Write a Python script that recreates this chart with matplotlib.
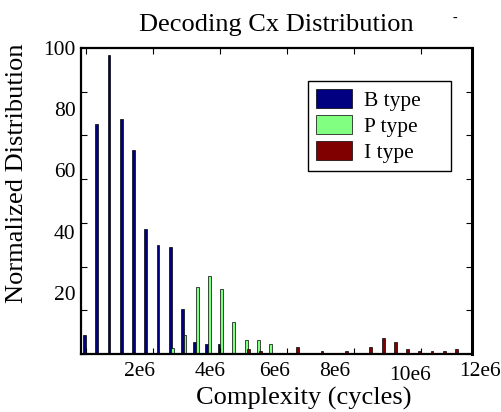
import matplotlib
matplotlib.use("Agg")
import matplotlib.pyplot as plt
import numpy as np

plt.rcParams['font.family'] = ['Liberation Serif', 'DejaVu Serif']

# complexity bins, one group per bin (B, P, I type)
b_type = [6.2, 75.2, 97.6, 76.7, 66.7, 40.7, 35.6, 34.9, 14.8, 3.9, 3.3, 3.3,
          0, 0, 0, 0, 0, 0, 0, 0, 0, 0, 0, 0, 0, 0, 0, 0, 0, 0, 0]
p_type = [0, 0, 0, 0, 0, 0, 0, 1.9, 6.2, 21.9, 25.5, 21.3, 10.5, 4.7, 4.6, 3.2,
          0, 0, 0, 0, 0, 0, 0, 0, 0, 0, 0, 0, 0, 0, 0]
i_type = [0, 0, 0, 0, 0, 0, 0, 0, 0, 0, 0, 0, 0, 1.7, 1.0, 0, 0, 2.4, 0, 1.0,
          0, 1.0, 0, 2.4, 5.3, 3.9, 1.7, 1.0, 1.0, 1.0, 1.7]

bin_width = 0.365e6
x_ticks = [0, 2e6, 4e6, 6e6, 8e6, 10e6]
x_labels = ['2e6', '4e6', '6e6', '8e6', '10e6', '12e6']
x_label_pos = [1.61e6, 3.70e6, 5.64e6, 7.43e6, 9.67e6, 11.76e6]
y_ticks = [20, 40, 60, 80, 100]

fig = plt.figure(figsize=(5.02, 4.12), dpi=100)
ax = fig.add_axes([81/502, 58/412, 391/502, 306/412])

centers = 0.033e6 + bin_width * np.arange(len(b_type))
off = 0.075e6
w = 0.085e6
ax.bar(centers - off, b_type, width=w, color='#000080', edgecolor='black', linewidth=0.5, label='B type')
ax.bar(centers, p_type, width=w, color='#80ff80', edgecolor='black', linewidth=0.5, label='P type')
ax.bar(centers + off, i_type, width=w, color='#800000', edgecolor='black', linewidth=0.5, label='I type')

ax.set_xlim(-0.149e6, 11.52e6)
ax.set_ylim(0, 100)

# tick marks and labels do not line up in the original figure
ax.set_xticks([])
ax.set_xticks(x_ticks, minor=True)
for pos, lab in zip(x_label_pos, x_labels):
    dy = -0.069 if lab == '10e6' else -0.056
    ax.text(pos, dy, lab, transform=ax.get_xaxis_transform(), ha='center', va='center',
            fontsize=15.5, clip_on=False)

ax.set_yticks(y_ticks)
ax.set_yticklabels([str(v) for v in y_ticks], fontsize=15.5)
ax.set_yticks(np.arange(0, 101, 100/7), minor=True)
ax.tick_params(which='major', axis='y', length=0, pad=4)
ax.tick_params(which='minor', direction='in', length=4, width=0.8,
               top=True, right=True, bottom=True, left=True)

for s in ax.spines.values():
    s.set_linewidth(1.6)
ax.spines['right'].set_linewidth(2.2)

ax.set_title('Decoding Cx Distribution', fontsize=19, pad=12)
ax.set_xlabel('Complexity (cycles)', fontsize=19, va='center')
ax.xaxis.set_label_coords(0.57, -0.144)
ax.set_ylabel('Normalized Distribution', fontsize=19, va='center')
ax.yaxis.set_label_coords(-0.164, 0.59)

# legend box is wider than its text in the original
leg = ax.legend(loc='upper left', bbox_to_anchor=(0.581, 0.5, 0.365, 0.392), mode='expand',
                fontsize=15.5, fancybox=False, framealpha=1, edgecolor='black',
                borderaxespad=0, handlelength=1.67, handleheight=1.0, labelspacing=0.2,
                handletextpad=0.56, borderpad=0.35)
leg.get_frame().set_linewidth(1.0)

fig.text(455/502, 1 - 18/412, '-', fontsize=10, ha='center', va='center')

plt.savefig('out.png', dpi=100)
